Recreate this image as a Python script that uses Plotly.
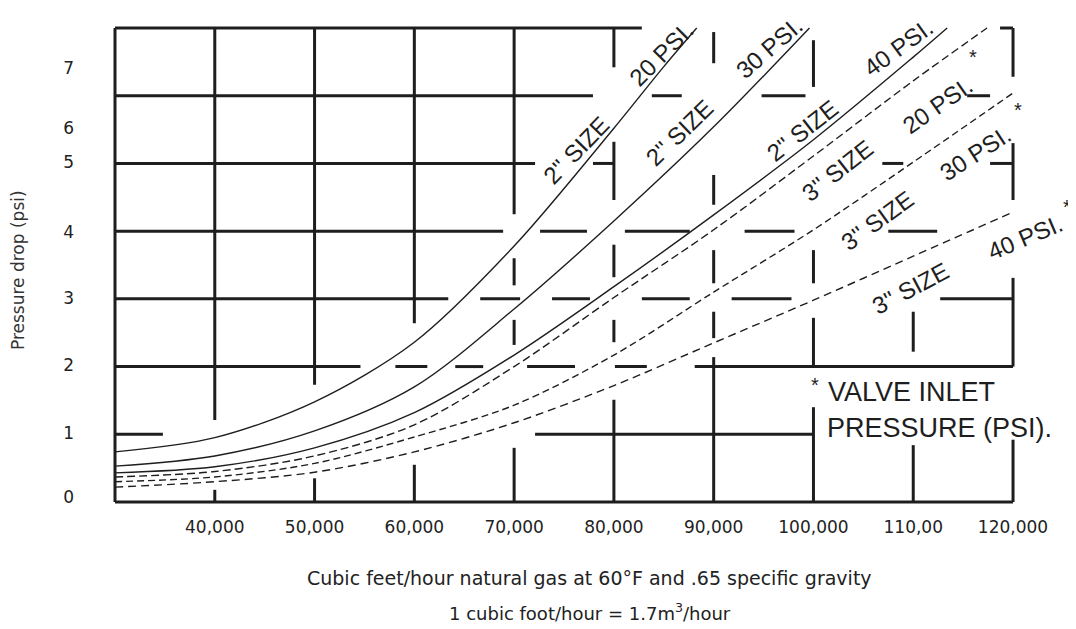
import plotly.graph_objects as go

# ---------------- data (flow in thousand cubic feet/hour, pressure drop in psi) ----------------
X_TICK_VALUES = [40, 50, 60, 70, 80, 90, 100, 110, 120]
X_TICK_LABELS = ["40,000", "50,000", "60,000", "70,000", "80,000", "90,000", "100,000", "110,00", "120,000"]
Y_TICK_VALUES = [0.07, 1.02, 2.02, 3.01, 3.99, 5.02, 5.52, 6.41]
Y_TICK_LABELS = ["0", "1", "2", "3", "4", "5", "6", "7"]

flow_2in_20 = [30, 40, 50, 60, 70, 80, 85, 88.3]
drop_2in_20 = [0.74, 0.95, 1.48, 2.36, 3.78, 5.52, 6.43, 7.0]

flow_2in_30 = [30, 40, 50, 60, 70, 80, 90, 99.6]
drop_2in_30 = [0.53, 0.68, 1.05, 1.70, 2.85, 4.15, 5.54, 7.0]

flow_2in_40 = [30, 40, 50, 60, 70, 80, 90, 100, 110, 113.4]
drop_2in_40 = [0.43, 0.52, 0.80, 1.32, 2.17, 3.18, 4.24, 5.35, 6.57, 7.0]

flow_3in_20 = [30, 40, 50, 60, 70, 80, 90, 100, 110, 117.4]
drop_3in_20 = [0.37, 0.45, 0.68, 1.14, 2.00, 3.02, 4.02, 5.11, 6.22, 7.0]

flow_3in_30 = [30, 40, 50, 60, 70, 80, 90, 100, 110, 120]
drop_3in_30 = [0.30, 0.37, 0.57, 0.96, 1.43, 2.17, 3.10, 4.02, 5.02, 6.04]

flow_3in_40 = [30, 40, 50, 60, 70, 80, 90, 100, 110, 120]
drop_3in_40 = [0.22, 0.30, 0.44, 0.74, 1.17, 1.72, 2.35, 2.98, 3.63, 4.28]

# printed grid of the original chart (broken where the labels sit)
grid_horizontal = {
    7: [(30, 82.8), (118.7, 120)],
    6: [(30, 77.9), (83.8, 86.8), (94.8, 99.2), (115.4, 117.7)],
    5: [(30, 72.1), (77.9, 80), (106.9, 109.0), (117.7, 120)],
    4: [(30, 68.9), (72.6, 77.3), (81.1, 87.6), (93.1, 98.1), (107.5, 112.4)],
    3: [(30, 63.4), (66.6, 70.6), (73.8, 77.6), (82.8, 87.6), (91.8, 97.8), (112.7, 120)],
    2: [(30, 54.6), (58.1, 61.3), (64.1, 66.9), (71.3, 76.1), (80.1, 83.3), (88.1, 120)],
    1: [(30, 34.8), (72.1, 100)],
    0: [(30, 120)],
}
grid_vertical = {
    30: [(0, 7)],
    40: [(0, 0.18), (1.21, 7)],
    50: [(0, 0.35), (1.73, 7)],
    60: [(0, 0.55), (2.64, 7)],
    70: [(0, 0.80), (2.32, 2.69), (3.20, 3.60), (4.25, 7)],
    80: [(0, 1.51), (2.36, 2.69), (3.32, 3.80), (4.46, 5.32), (6.42, 7)],
    90: [(0, 2.14), (2.42, 2.81), (3.23, 3.72), (4.39, 4.83), (6.48, 6.94)],
    100: [(0, 1.40), (2.0, 2.72), (3.23, 3.72), (6.13, 6.82)],
    110: [(0, 0.84), (2.22, 2.81)],
    120: [(0, 0.92), (2.0, 3.31), (4.46, 5.30), (6.28, 7.0)],
}

# ---------------- figure ----------------
INK = "#1e1e1e"
fig = go.Figure()

gx, gy = [], []
for level, spans in grid_horizontal.items():
    for a, b in spans:
        gx += [a, b, None]
        gy += [level, level, None]
for pos, spans in grid_vertical.items():
    for a, b in spans:
        gx += [pos, pos, None]
        gy += [a, b, None]
fig.add_trace(go.Scatter(x=gx, y=gy, mode="lines", line=dict(color=INK, width=3),
                         hoverinfo="skip", showlegend=False))

curves = [
    (flow_2in_20, drop_2in_20, "solid"),
    (flow_2in_30, drop_2in_30, "solid"),
    (flow_2in_40, drop_2in_40, "solid"),
    (flow_3in_20, drop_3in_20, "8px,4px"),
    (flow_3in_30, drop_3in_30, "7px,4px"),
    (flow_3in_40, drop_3in_40, "8px,5px"),
]
for xs, ys, dash in curves:
    fig.add_trace(go.Scatter(x=xs, y=ys, mode="lines",
                             line=dict(color=INK, width=1.4, dash=dash, shape="spline", smoothing=0.9),
                             showlegend=False))

LABEL_FONT = dict(family="Liberation Sans, Arial, sans-serif", size=24, color=INK)
curve_labels = [
    ("2'' SIZE", 76.3, 5.20, -46), ("20 PSI.", 84.8, 6.62, -45),
    ("2'' SIZE", 86.6, 5.46, -44), ("30 PSI.", 95.6, 6.71, -41),
    ("2'' SIZE", 98.9, 5.49, -38), ("40 PSI.", 108.5, 6.71, -36),
    ("3'' SIZE", 102.4, 4.90, -38), ("20 PSI.", 112.4, 5.86, -35),
    ("3'' SIZE", 106.4, 4.16, -36), ("30 PSI.", 116.2, 5.15, -33),
    ("3'' SIZE", 109.7, 3.16, -28), ("40 PSI.", 121.2, 3.90, -23),
]
for txt, x, y, ang in curve_labels:
    fig.add_annotation(x=x, y=y, text=txt, textangle=ang, showarrow=False, font=LABEL_FONT)
for x, y in [(116.0, 6.57), (120.5, 5.79), (125.4, 4.36), (100.2, 1.73)]:
    fig.add_annotation(x=x, y=y, text="*", showarrow=False,
                       font=dict(family="Liberation Sans, Arial, sans-serif", size=20, color=INK))

NOTE_FONT = dict(family="Liberation Sans, Arial, sans-serif", size=27, color=INK)
fig.add_annotation(x=101.26, y=1.62, text="VALVE INLET", xanchor="left", showarrow=False, font=NOTE_FONT)
fig.add_annotation(x=101.16, y=1.10, text="PRESSURE (PSI).", xanchor="left", showarrow=False, font=NOTE_FONT)

TEXT_FAMILY = "DejaVu Sans, Verdana, sans-serif"
AXIS_FONT = dict(family=TEXT_FAMILY, size=17, color="#222222")
fig.add_annotation(xref="paper", yref="paper", x=-0.0845, y=0.48, xanchor="center", yanchor="middle",
                   text="Pressure drop (psi)", textangle=-90, showarrow=False,
                   font=dict(family=TEXT_FAMILY, size=17, color="#333333"))
fig.add_annotation(xref="paper", yref="paper", x=0.505, y=-0.136, xanchor="center", yanchor="middle",
                   text="Cubic feet/hour natural gas at 60°F and .65 specific gravity",
                   showarrow=False, font=dict(family=TEXT_FAMILY, size=19, color="#222222"))
fig.add_annotation(xref="paper", yref="paper", x=0.505, y=-0.204, xanchor="center", yanchor="middle",
                   text="1 cubic foot/hour = 1.7m<sup>3</sup>/hour",
                   showarrow=False, font=dict(family=TEXT_FAMILY, size=18, color="#222222"))

# the page body adds an 8px margin, so the figure is 8px smaller and margins shifted accordingly
fig.update_layout(
    width=1068, height=621,
    margin=dict(l=92, r=6, t=2, b=119),
    paper_bgcolor="white", plot_bgcolor="white",
    xaxis=dict(range=[28.497, 125.71], tickvals=X_TICK_VALUES, ticktext=X_TICK_LABELS,
               showgrid=False, zeroline=False, showline=False, ticks="",
               tickfont=AXIS_FONT, ticklabelstandoff=5),
    yaxis=dict(range=[-0.118, 7.266], tickvals=Y_TICK_VALUES, ticktext=Y_TICK_LABELS,
               showgrid=False, zeroline=False, showline=False, ticks="",
               tickfont=AXIS_FONT, ticklabelstandoff=25),
)

fig.write_html("out.html")
